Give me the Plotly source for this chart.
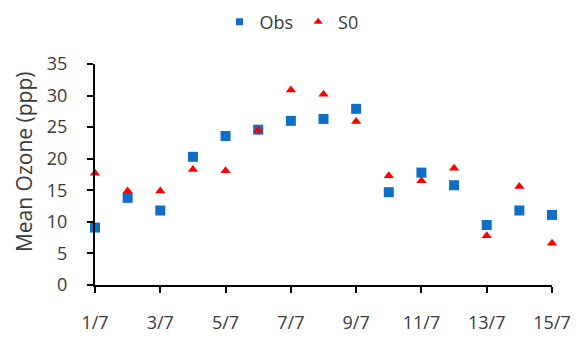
import plotly.graph_objects as go

days = [1, 2, 3, 4, 5, 6, 7, 8, 9, 10, 11, 12, 13, 14, 15]
obs = [9.1, 13.8, 11.8, 20.3, 23.6, 24.6, 26.0, 26.3, 27.9, 14.7, 17.8, 15.8, 9.5, 11.8, 11.1]
s0 = [17.7, 14.9, 14.9, 18.3, 18.1, 24.5, 30.9, 30.2, 25.9, 17.3, 16.5, 18.5, 7.8, 15.6, 6.6]
tick_vals = [1, 3, 5, 7, 9, 11, 13, 15]
tick_text = ["1/7", "3/7", "5/7", "7/7", "9/7", "11/7", "13/7", "15/7"]

FONT = "Open Sans"
TXT = "#3a3a3a"
BLUE = "#0f6fc6"
RED = "#ff0000"

fig = go.Figure()
fig.add_trace(go.Scatter(x=days, y=obs, mode="markers", name="Obs", cliponaxis=False,
                         marker=dict(symbol="square", size=10, color=BLUE), showlegend=False))
fig.add_trace(go.Scatter(x=days, y=s0, mode="markers", name="S0", cliponaxis=False,
                         marker=dict(symbol="triangle-up", size=9, color=RED), showlegend=False))
# legend entries with smaller symbols
fig.add_trace(go.Scatter(x=[None], y=[None], mode="markers", name="Obs",
                         marker=dict(symbol="square", size=7, color=BLUE)))
fig.add_trace(go.Scatter(x=[None], y=[None], mode="markers", name="S0",
                         marker=dict(symbol="triangle-up", size=8, color=RED)))

fig.update_layout(
    width=576, height=338,
    margin=dict(l=95, r=24, t=64, b=53, autoexpand=False),
    paper_bgcolor="white", plot_bgcolor="white",
    font=dict(family=FONT, size=18, color=TXT),
    showlegend=True,
    legend=dict(orientation="h", x=0.43, xanchor="center", y=1.19, yanchor="middle",
                font=dict(size=18, color=TXT), itemwidth=30, tracegroupgap=0,
                bgcolor="rgba(0,0,0,0)"),
    annotations=[dict(text="Mean Ozone (ppp)", textangle=-90, xref="paper", yref="paper",
                      x=-0.155, y=0.557, xanchor="center", yanchor="middle", showarrow=False,
                      font=dict(size=21, color=TXT, family=FONT))],
)
fig.update_xaxes(range=[1, 15], tickvals=tick_vals, ticktext=tick_text, automargin=False,
                 showgrid=False, zeroline=False, showline=True, linecolor="black", linewidth=2,
                 ticks="outside", ticklen=6, tickwidth=2, tickcolor="black",
                 ticklabelstandoff=14, tickfont=dict(size=18, color=TXT))
fig.update_yaxes(range=[0, 35], dtick=5, tick0=0, automargin=False,
                 showgrid=False, zeroline=False, showline=True, linecolor="black", linewidth=2,
                 ticks="outside", ticklen=6, tickwidth=2, tickcolor="black",
                 ticklabelstandoff=16, tickfont=dict(size=18, color=TXT))

fig.write_html("out.html", config={"displayModeBar": False},
               post_script="document.body.style.margin='0';document.body.style.overflow='hidden';")
